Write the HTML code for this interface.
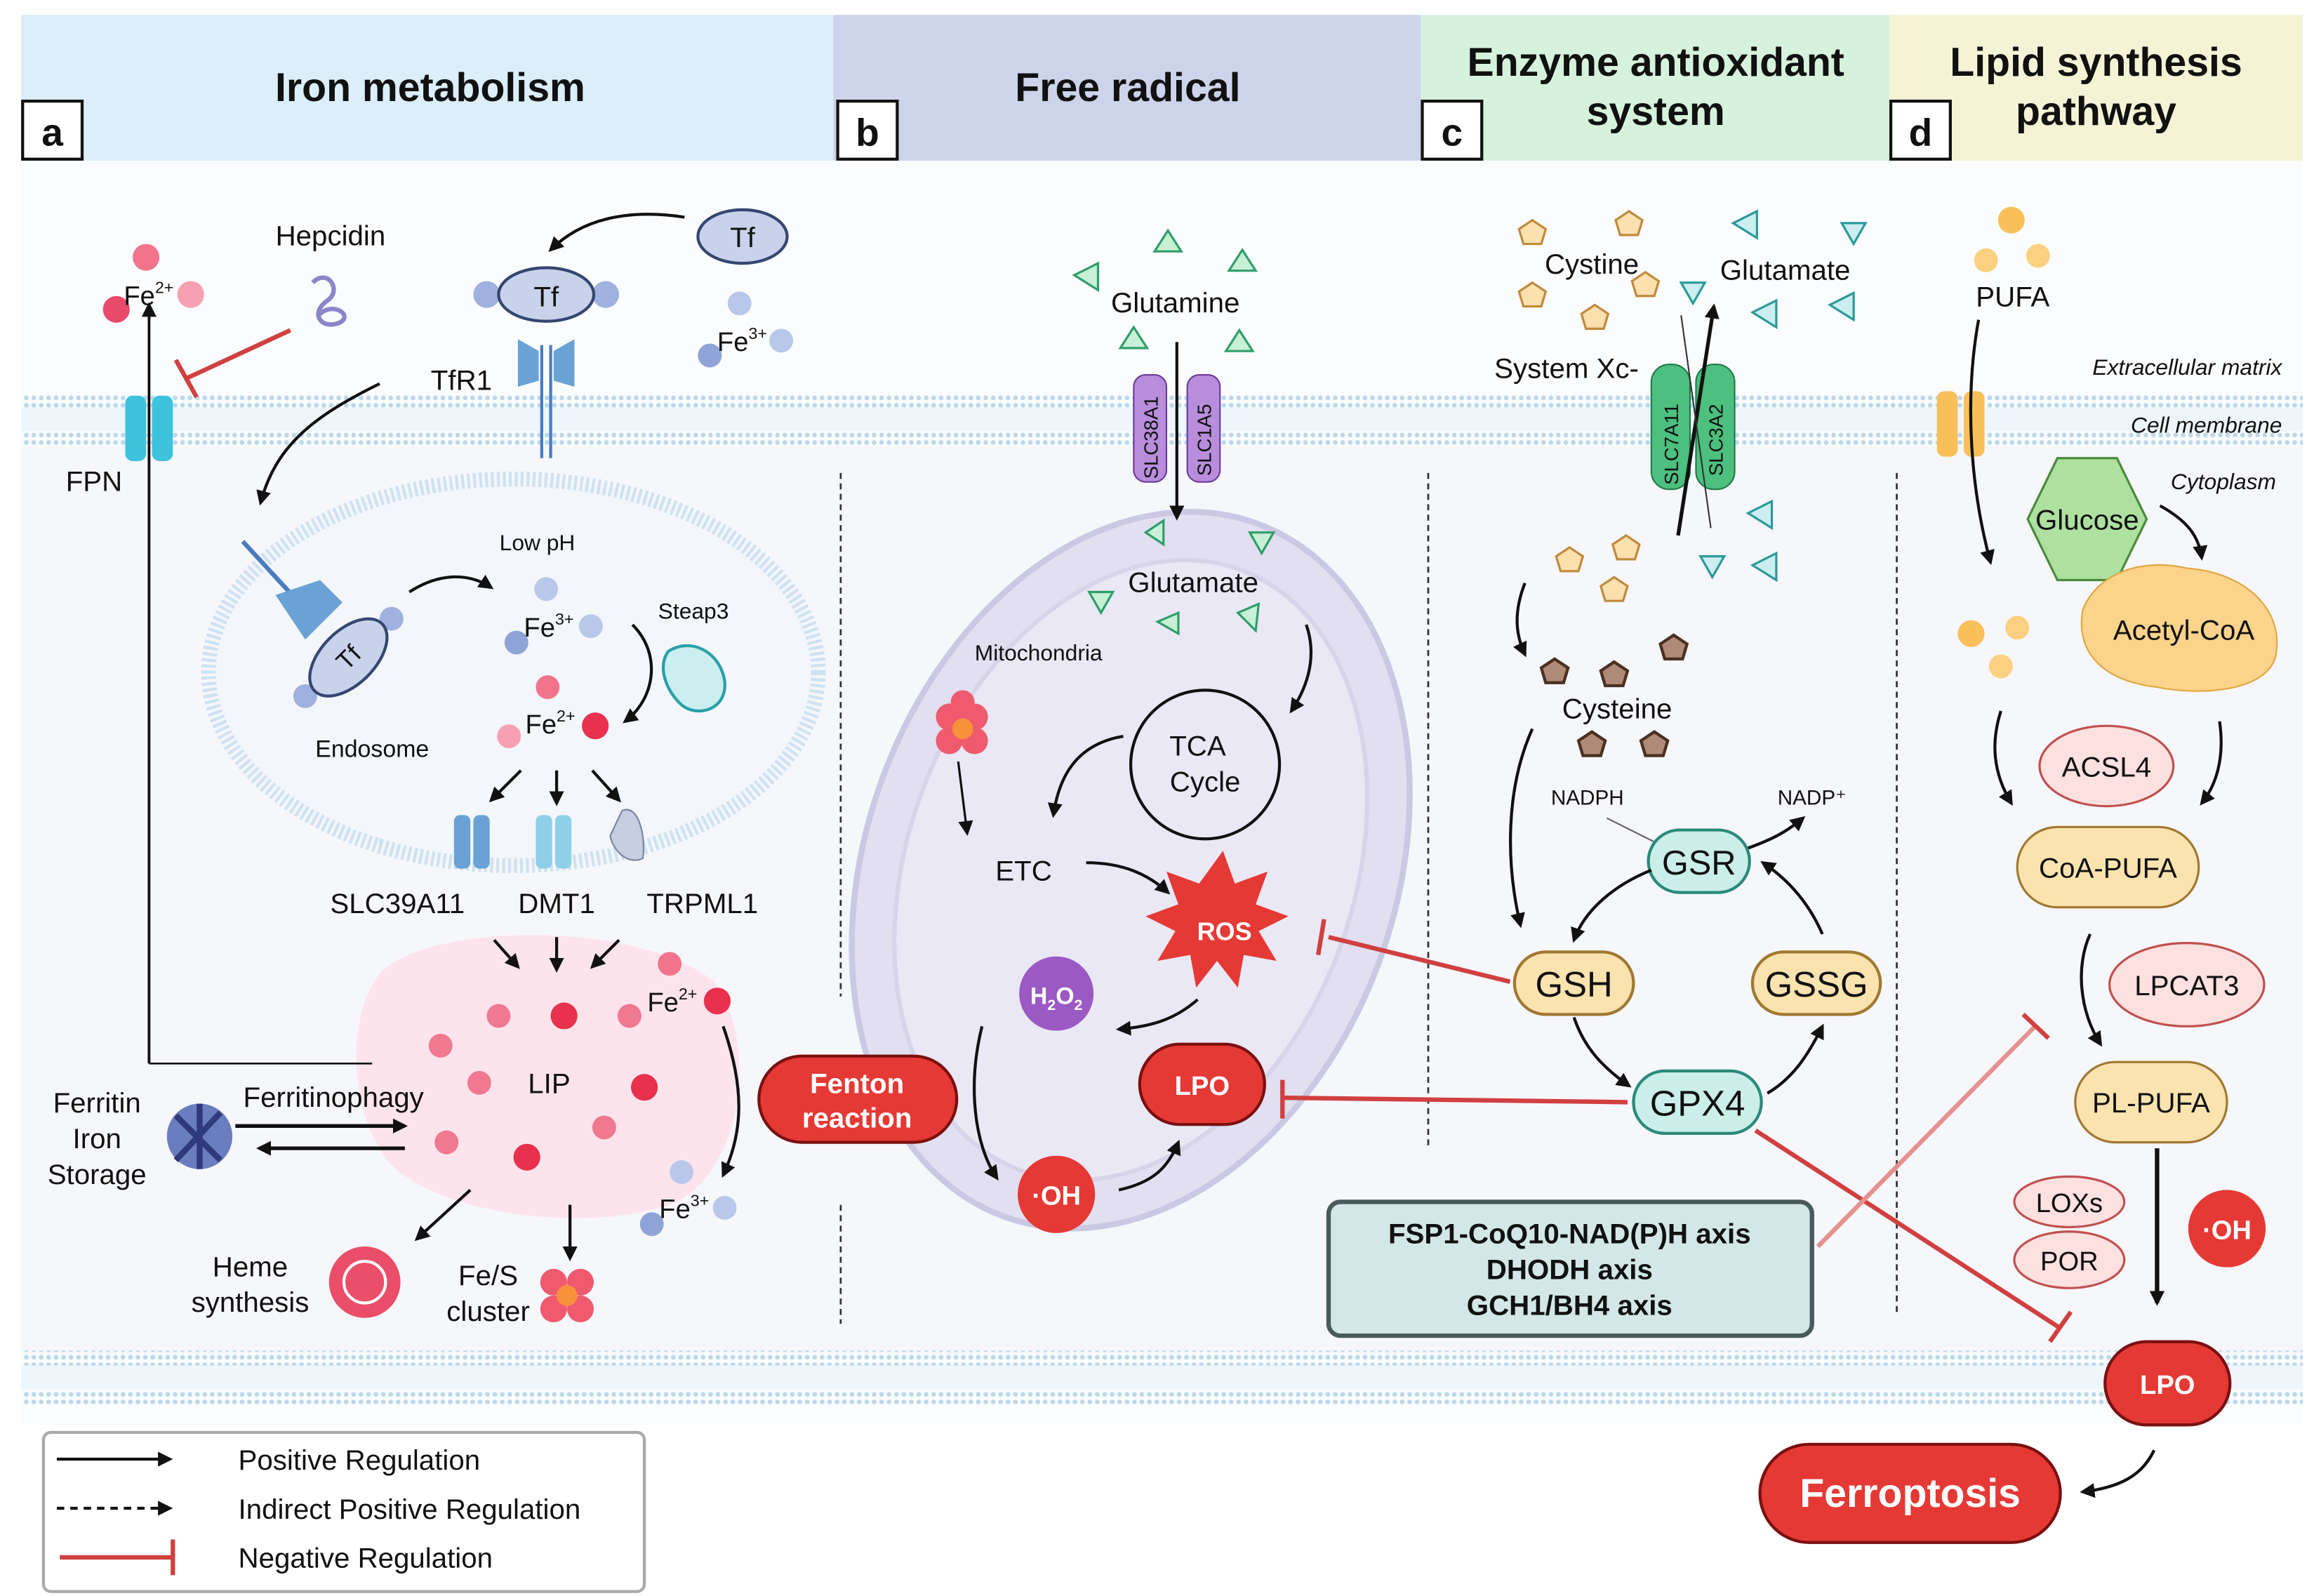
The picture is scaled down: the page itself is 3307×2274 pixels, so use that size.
<!DOCTYPE html>
<html><head><meta charset="utf-8"><style>
html,body{margin:0;padding:0;background:#fff}
svg{display:block}
text{font-family:"Liberation Sans",sans-serif;fill:#111}
.b{font-weight:bold}
</style></head><body>
<svg width="3307" height="2274" viewBox="0 0 1560 1073" xmlns="http://www.w3.org/2000/svg">
<defs>
<marker id="ar" markerWidth="10" markerHeight="10" refX="8" refY="5" orient="auto" markerUnits="userSpaceOnUse"><path d="M0,0 L10,5 L0,10 z" fill="#111"/></marker>
<pattern id="mem" width="5" height="5" patternUnits="userSpaceOnUse"><circle cx="2.5" cy="2.5" r="1.6" fill="#b9d9ee"/></pattern>
</defs>
<rect width="1560" height="1073" fill="#fff"/>
<!-- cell background -->
<rect x="14" y="108" width="1534" height="850" fill="#fbfcfe"/>
<rect x="14" y="300" width="1534" height="610" fill="#f6f7fb"/>
<!-- headers -->
<rect x="14" y="10" width="546" height="98" fill="#dbeefa"/>
<rect x="560" y="10" width="395" height="98" fill="#cdd3ea"/>
<rect x="955" y="10" width="315" height="98" fill="#d6f2dd"/>
<rect x="1270" y="10" width="278" height="98" fill="#f4f3d6"/>
<text x="289" y="68" font-size="27" class="b" text-anchor="middle">Iron metabolism</text>
<text x="758" y="68" font-size="27" class="b" text-anchor="middle">Free radical</text>
<text x="1113" y="51" font-size="27" class="b" text-anchor="middle">Enzyme antioxidant</text>
<text x="1113" y="84" font-size="27" class="b" text-anchor="middle">system</text>
<text x="1409" y="51" font-size="27" class="b" text-anchor="middle">Lipid synthesis</text>
<text x="1409" y="84" font-size="27" class="b" text-anchor="middle">pathway</text>
<g fill="#fff" stroke="#111" stroke-width="2">
<rect x="15" y="68" width="40" height="39"/><rect x="563" y="68" width="40" height="39"/><rect x="956" y="68" width="40" height="39"/><rect x="1271" y="68" width="40" height="39"/></g>
<text x="35" y="98" font-size="26" class="b" text-anchor="middle">a</text>
<text x="583" y="98" font-size="26" class="b" text-anchor="middle">b</text>
<text x="976" y="98" font-size="26" class="b" text-anchor="middle">c</text>
<text x="1291" y="98" font-size="26" class="b" text-anchor="middle">d</text>
<!-- membranes -->
<rect x="14" y="264" width="1534" height="10" fill="url(#mem)"/>
<rect x="14" y="274" width="1534" height="16" fill="#eef5fb"/>
<rect x="14" y="290" width="1534" height="10" fill="url(#mem)"/>
<rect x="14" y="908" width="1534" height="10" fill="url(#mem)"/>
<rect x="14" y="918" width="1534" height="16" fill="#eef5fb"/>
<rect x="14" y="934" width="1534" height="10" fill="url(#mem)"/>
<text x="1534" y="252" font-size="15" font-style="italic" text-anchor="end">Extracellular matrix</text>
<text x="1534" y="291" font-size="15" font-style="italic" text-anchor="end">Cell membrane</text>
<text x="1530" y="329" font-size="15" font-style="italic" text-anchor="end">Cytoplasm</text>
<!-- separators -->
<g stroke="#333" stroke-width="1.3" stroke-dasharray="4,3">
<line x1="565" y1="318" x2="565" y2="670"/><line x1="565" y1="810" x2="565" y2="890"/>
<line x1="960" y1="318" x2="960" y2="770"/><line x1="1275" y1="318" x2="1275" y2="885"/></g>

<!-- ===== a ===== -->
<ellipse cx="345" cy="452" rx="205" ry="130" fill="#f3f6fb" stroke="#cfe2f1" stroke-width="10" stroke-dasharray="2,2"/>
<path d="M260,650 C300,620 430,620 480,660 C510,700 500,790 450,810 C390,830 290,815 260,780 C230,740 235,670 260,650z" fill="#fde4ec"/>
<g fill="#e84a6b"><circle cx="98" cy="173" r="9" fill="#f2748c"/><circle cx="78" cy="208" r="9"/><circle cx="128" cy="198" r="9" fill="#f7a0b1"/></g>
<text x="83" y="205" font-size="18">Fe<tspan font-size="11" dy="-8">2+</tspan></text>
<text x="222" y="165" font-size="19" text-anchor="middle">Hepcidin</text>
<path d="M210,190 c10,-10 20,5 10,12 c-12,8 -5,20 8,15 c10,-5 -5,-15 -14,-5" fill="none" stroke="#8a86c8" stroke-width="3"/>
<line x1="195" y1="222" x2="126" y2="254" stroke="#d04040" stroke-width="3"/>
<line x1="118" y1="242" x2="132" y2="267" stroke="#d04040" stroke-width="3"/>
<rect x="84" y="266" width="14" height="44" rx="5" fill="#3ec3dd"/><rect x="102" y="266" width="14" height="44" rx="5" fill="#3ec3dd"/>
<text x="63" y="330" font-size="19" text-anchor="middle">FPN</text>
<path d="M100,715 L100,205" stroke="#111" stroke-width="1.8" marker-end="url(#ar)"/>
<path d="M100,715 L250,715" stroke="#111" stroke-width="1.2"/>
<ellipse cx="499" cy="159" rx="30" ry="18" fill="#c9d2eb" stroke="#354770" stroke-width="2"/>
<text x="499" y="166" font-size="19" text-anchor="middle">Tf</text>
<path d="M460,146 C420,140 390,148 370,168" fill="none" stroke="#111" stroke-width="2" marker-end="url(#ar)"/>
<circle cx="327" cy="198" r="9" fill="#9fb1de"/><circle cx="407" cy="198" r="9" fill="#9fb1de"/>
<ellipse cx="367" cy="198" rx="32" ry="18" fill="#c9d2eb" stroke="#354770" stroke-width="2"/>
<text x="367" y="206" font-size="19" text-anchor="middle">Tf</text>
<path d="M348,228 l14,8 l0,20 l-14,4z M386,228 l-14,8 l0,20 l14,4z" fill="#6aa2d6"/>
<line x1="364" y1="232" x2="364" y2="308" stroke="#4a7cc0" stroke-width="2"/><line x1="370" y1="232" x2="370" y2="308" stroke="#4a7cc0" stroke-width="2"/>
<circle cx="497" cy="204" r="8" fill="#b9c7ea"/><circle cx="477" cy="239" r="8" fill="#8fa3d7"/><circle cx="525" cy="229" r="8" fill="#b9c7ea"/>
<text x="482" y="236" font-size="18">Fe<tspan font-size="11" dy="-8">3+</tspan></text>
<text x="310" y="262" font-size="19" text-anchor="middle">TfR1</text>
<path d="M255,258 C210,280 185,300 175,338" fill="none" stroke="#111" stroke-width="2" marker-end="url(#ar)"/>
<line x1="163" y1="364" x2="198" y2="402" stroke="#4a7cc0" stroke-width="3"/>
<path d="M185,400 l30,-10 l15,15 l-25,25z" fill="#6aa2d6"/>
<circle cx="205" cy="468" r="8" fill="#9fb1de"/><circle cx="263" cy="416" r="8" fill="#9fb1de"/>
<ellipse cx="234" cy="442" rx="18" ry="32" transform="rotate(45 234 442)" fill="#c9d2eb" stroke="#354770" stroke-width="2"/>
<text x="234" y="448" font-size="17" text-anchor="middle" transform="rotate(-45 234 442)">Tf</text>
<text x="361" y="370" font-size="15" text-anchor="middle">Low pH</text>
<path d="M275,398 C295,385 315,385 330,395" fill="none" stroke="#111" stroke-width="2" marker-end="url(#ar)"/>
<circle cx="367" cy="396" r="8" fill="#b9c7ea"/><circle cx="347" cy="432" r="8" fill="#8fa3d7"/><circle cx="397" cy="421" r="8" fill="#b9c7ea"/>
<text x="352" y="428" font-size="18">Fe<tspan font-size="11" dy="-8">3+</tspan></text>
<text x="466" y="416" font-size="15" text-anchor="middle">Steap3</text>
<path d="M449,438 c15,-10 35,0 38,20 c2,20 -20,25 -30,15 c-10,-10 -15,-25 -8,-35z" fill="#cbeef0" stroke="#2aa0a8" stroke-width="2"/>
<path d="M425,420 C445,440 440,470 420,485" fill="none" stroke="#111" stroke-width="2" marker-end="url(#ar)"/>
<circle cx="368" cy="462" r="8" fill="#f2748c"/><circle cx="342" cy="495" r="8" fill="#f7a0b1"/><circle cx="400" cy="488" r="9" fill="#e8304f"/>
<text x="353" y="493" font-size="18">Fe<tspan font-size="11" dy="-8">2+</tspan></text>
<text x="250" y="509" font-size="16" text-anchor="middle">Endosome</text>
<g stroke="#111" stroke-width="2" marker-end="url(#ar)"><line x1="350" y1="518" x2="330" y2="538"/><line x1="374" y1="518" x2="374" y2="540"/><line x1="398" y1="518" x2="416" y2="538"/></g>
<rect x="305" y="548" width="11" height="36" rx="4" fill="#6aa2d6"/><rect x="318" y="548" width="11" height="36" rx="4" fill="#6aa2d6"/>
<rect x="360" y="548" width="11" height="36" rx="4" fill="#8fd0e8"/><rect x="373" y="548" width="11" height="36" rx="4" fill="#8fd0e8"/>
<path d="M418,545 c12,-5 16,20 14,32 c-10,5 -20,-5 -22,-15z" fill="#c7cee0" stroke="#7a849c"/>
<text x="267" y="614" font-size="19" text-anchor="middle">SLC39A11</text>
<text x="374" y="614" font-size="19" text-anchor="middle">DMT1</text>
<text x="472" y="614" font-size="19" text-anchor="middle">TRPML1</text>
<g stroke="#111" stroke-width="2" marker-end="url(#ar)"><line x1="332" y1="632" x2="348" y2="650"/><line x1="374" y1="630" x2="374" y2="652"/><line x1="416" y1="632" x2="398" y2="650"/></g>
<g fill="#f07890"><circle cx="296" cy="703" r="8"/><circle cx="335" cy="683" r="8"/><circle cx="379" cy="683" r="9" fill="#e8304f"/><circle cx="423" cy="683" r="8"/><circle cx="322" cy="728" r="8"/><circle cx="433" cy="731" r="9" fill="#e8304f"/><circle cx="300" cy="768" r="8"/><circle cx="354" cy="778" r="9" fill="#e8304f"/><circle cx="406" cy="758" r="8"/><circle cx="450" cy="648" r="8" fill="#f2748c"/><circle cx="482" cy="673" r="9" fill="#e8304f"/></g>
<text x="369" y="735" font-size="19" text-anchor="middle">LIP</text>
<text x="435" y="680" font-size="18">Fe<tspan font-size="11" dy="-8">2+</tspan></text>
<path d="M486,690 C500,730 500,760 486,790" fill="none" stroke="#111" stroke-width="2" marker-end="url(#ar)"/>
<circle cx="458" cy="788" r="8" fill="#b9c7ea"/><circle cx="438" cy="823" r="8" fill="#8fa3d7"/><circle cx="487" cy="812" r="8" fill="#b9c7ea"/>
<text x="443" y="819" font-size="18">Fe<tspan font-size="11" dy="-8">3+</tspan></text>
<text x="65" y="748" font-size="19" text-anchor="middle">Ferritin</text>
<text x="65" y="772" font-size="19" text-anchor="middle">Iron</text>
<text x="65" y="796" font-size="19" text-anchor="middle">Storage</text>
<circle cx="134" cy="764" r="22" fill="#6a7dbf"/><path d="M118,750 l30,30 M148,748 l-30,32 M134,742 l0,44" stroke="#2e3a7a" stroke-width="4"/>
<text x="224" y="744" font-size="19" text-anchor="middle">Ferritinophagy</text>
<line x1="158" y1="757" x2="272" y2="757" stroke="#111" stroke-width="2.5" marker-end="url(#ar)"/>
<line x1="272" y1="772" x2="174" y2="772" stroke="#111" stroke-width="2.5" marker-end="url(#ar)"/>
<text x="168" y="858" font-size="19" text-anchor="middle">Heme</text>
<text x="168" y="882" font-size="19" text-anchor="middle">synthesis</text>
<circle cx="245" cy="862" r="24" fill="#e8304f" opacity="0.85"/><circle cx="245" cy="862" r="14" fill="none" stroke="#fff" stroke-width="2"/>
<line x1="316" y1="800" x2="280" y2="833" stroke="#111" stroke-width="2" marker-end="url(#ar)"/>
<line x1="383" y1="810" x2="383" y2="846" stroke="#111" stroke-width="2" marker-end="url(#ar)"/>
<text x="328" y="864" font-size="19" text-anchor="middle">Fe/S</text>
<text x="328" y="888" font-size="19" text-anchor="middle">cluster</text>
<g fill="#ef5a6e"><circle cx="372" cy="862" r="9"/><circle cx="390" cy="862" r="9"/><circle cx="372" cy="880" r="9"/><circle cx="390" cy="880" r="9"/></g><circle cx="381" cy="871" r="7" fill="#f7913a"/>

<!-- ===== b ===== -->
<ellipse cx="760" cy="585" rx="178" ry="248" transform="rotate(20 760 585)" fill="#e1dff0" stroke="#cbc8e4" stroke-width="4"/>
<ellipse cx="760" cy="585" rx="150" ry="215" transform="rotate(20 760 585)" fill="#eae8f5" stroke="#d7d4ea" stroke-width="3"/>
<g fill="#c8f0d6" stroke="#2f9e6a" stroke-width="1.5">
<path d="M785,155 l9,14 l-18,0z"/><path d="M835,168 l9,14 l-18,0z"/><path d="M722,185 l16,-8 l0,18z"/><path d="M762,220 l9,14 l-18,0z"/><path d="M833,222 l9,14 l-18,0z"/>
<path d="M770,358 l12,-8 l0,16z"/><path d="M840,358 l16,0 l-8,14z"/><path d="M732,398 l16,0 l-8,14z"/><path d="M778,418 l14,-6 l0,14z"/><path d="M832,412 l14,-6 l-2,18z"/></g>
<text x="790" y="210" font-size="19" text-anchor="middle">Glutamine</text>
<rect x="762" y="252" width="22" height="72" rx="8" fill="#b88ddb" stroke="#6a3a9a"/><rect x="798" y="252" width="22" height="72" rx="8" fill="#b88ddb" stroke="#6a3a9a"/>
<text font-size="13" transform="translate(778 322) rotate(-90)">SLC38A1</text>
<text font-size="13" transform="translate(814 320) rotate(-90)">SLC1A5</text>
<line x1="791" y1="230" x2="791" y2="348" stroke="#111" stroke-width="2" marker-end="url(#ar)"/>
<text x="802" y="398" font-size="19" text-anchor="middle">Glutamate</text>
<text x="698" y="444" font-size="15" text-anchor="middle">Mitochondria</text>
<g fill="#ef5a6e"><circle cx="638" cy="482" r="9"/><circle cx="655" cy="482" r="9"/><circle cx="638" cy="498" r="9"/><circle cx="655" cy="498" r="9"/><circle cx="647" cy="472" r="8"/></g><circle cx="647" cy="490" r="7" fill="#f7913a"/>
<path d="M878,420 C885,440 880,460 868,478" fill="none" stroke="#111" stroke-width="2" marker-end="url(#ar)"/>
<circle cx="810" cy="514" r="50" fill="none" stroke="#111" stroke-width="2"/>
<text x="805" y="508" font-size="19" text-anchor="middle">TCA</text>
<text x="810" y="532" font-size="19" text-anchor="middle">Cycle</text>
<path d="M755,495 C725,500 712,520 708,548" fill="none" stroke="#111" stroke-width="2" marker-end="url(#ar)"/>
<path d="M644,512 L650,560" stroke="#111" stroke-width="1.5" marker-end="url(#ar)"/>
<text x="688" y="592" font-size="19" text-anchor="middle">ETC</text>
<path d="M730,580 C755,580 772,588 785,600" fill="none" stroke="#111" stroke-width="2" marker-end="url(#ar)"/>
<path d="M822,572 l8,22 l22,-8 l-8,22 l22,8 l-20,10 l12,20 l-22,-4 l-4,22 l-14,-18 l-14,18 l-4,-22 l-22,4 l12,-20 l-20,-10 l22,-8 l-8,-22 l22,8z" fill="#e53935"/>
<text x="823" y="632" font-size="17" class="b" text-anchor="middle" style="fill:#fff">ROS</text>
<circle cx="710" cy="668" r="25" fill="#9b59c4"/>
<text x="710" y="675" font-size="16" class="b" text-anchor="middle" style="fill:#fff">H<tspan font-size="10" dy="4">2</tspan><tspan dy="-4">O</tspan><tspan font-size="10" dy="4">2</tspan></text>
<path d="M805,672 C790,685 775,690 752,692" fill="none" stroke="#111" stroke-width="2" marker-end="url(#ar)"/>
<path d="M660,690 C650,730 655,770 670,792" fill="none" stroke="#111" stroke-width="2" marker-end="url(#ar)"/>
<rect x="510" y="710" width="133" height="58" rx="29" fill="#e53935" stroke="#7a1010" stroke-width="2"/>
<text x="576" y="735" font-size="19" class="b" text-anchor="middle" style="fill:#fff">Fenton</text>
<text x="576" y="758" font-size="19" class="b" text-anchor="middle" style="fill:#fff">reaction</text>
<circle cx="710" cy="803" r="26" fill="#e53935"/>
<text x="710" y="810" font-size="18" class="b" text-anchor="middle" style="fill:#fff">·OH</text>
<path d="M752,800 C775,795 785,785 792,768" fill="none" stroke="#111" stroke-width="2" marker-end="url(#ar)"/>
<rect x="766" y="702" width="84" height="54" rx="27" fill="#e53935" stroke="#7a1010" stroke-width="2"/>
<text x="808" y="736" font-size="18" class="b" text-anchor="middle" style="fill:#fff">LPO</text>

<!-- ===== c ===== -->
<g fill="#fbe0b0" stroke="#c08a3a" stroke-width="1.5">
<path d="M1030,148 l9,6 l-3,10 l-12,0 l-3,-10z"/><path d="M1095,142 l9,6 l-3,10 l-12,0 l-3,-10z"/><path d="M1030,190 l9,6 l-3,10 l-12,0 l-3,-10z"/><path d="M1072,205 l9,6 l-3,10 l-12,0 l-3,-10z"/><path d="M1106,183 l9,6 l-3,10 l-12,0 l-3,-10z"/>
<path d="M1055,368 l9,6 l-3,10 l-12,0 l-3,-10z"/><path d="M1093,360 l9,6 l-3,10 l-12,0 l-3,-10z"/><path d="M1085,388 l9,6 l-3,10 l-12,0 l-3,-10z"/></g>
<g fill="#b08a78" stroke="#4a3020" stroke-width="2">
<path d="M1045,443 l9,6 l-3,10 l-12,0 l-3,-10z"/><path d="M1085,445 l9,6 l-3,10 l-12,0 l-3,-10z"/><path d="M1125,427 l9,6 l-3,10 l-12,0 l-3,-10z"/><path d="M1070,492 l9,6 l-3,10 l-12,0 l-3,-10z"/><path d="M1112,492 l9,6 l-3,10 l-12,0 l-3,-10z"/></g>
<g fill="#cdeef0" stroke="#2a9a9a" stroke-width="1.5">
<path d="M1165,150 l16,-8 l0,18z"/><path d="M1238,150 l16,0 l-8,14z"/><path d="M1130,190 l16,0 l-8,14z"/><path d="M1178,210 l16,-8 l0,18z"/><path d="M1230,205 l16,-8 l0,18z"/>
<path d="M1175,345 l16,-8 l0,18z"/><path d="M1143,374 l16,0 l-8,14z"/><path d="M1178,380 l16,-8 l0,18z"/></g>
<text x="1070" y="184" font-size="19" text-anchor="middle">Cystine</text>
<text x="1200" y="188" font-size="19" text-anchor="middle">Glutamate</text>
<text x="1053" y="254" font-size="19" text-anchor="middle">System Xc-</text>
<rect x="1110" y="245" width="26" height="84" rx="12" fill="#4dbf7e" stroke="#1f7a48"/><rect x="1140" y="245" width="26" height="84" rx="12" fill="#4dbf7e" stroke="#1f7a48"/>
<text font-size="13" transform="translate(1128 326) rotate(-90)">SLC7A11</text>
<text font-size="13" transform="translate(1158 320) rotate(-90)">SLC3A2</text>
<line x1="1128" y1="360" x2="1152" y2="206" stroke="#111" stroke-width="2.5" marker-end="url(#ar)"/>
<line x1="1130" y1="212" x2="1150" y2="355" stroke="#333" stroke-width="1"/>
<path d="M1025,392 C1018,410 1018,425 1025,440" fill="none" stroke="#111" stroke-width="2" marker-end="url(#ar)"/>
<text x="1087" y="483" font-size="19" text-anchor="middle">Cysteine</text>
<path d="M1030,490 C1012,530 1012,580 1022,622" fill="none" stroke="#111" stroke-width="2" marker-end="url(#ar)"/>
<text x="1067" y="541" font-size="14" text-anchor="middle">NADPH</text>
<text x="1218" y="541" font-size="14" text-anchor="middle">NADP⁺</text>
<path d="M1080,550 C1100,560 1110,565 1120,570" fill="none" stroke="#666" stroke-width="1"/>
<path d="M1170,572 C1190,565 1200,560 1212,550" fill="none" stroke="#111" stroke-width="2" marker-end="url(#ar)"/>
<rect x="1108" y="558" width="68" height="42" rx="21" fill="#cbeee8" stroke="#2a8a7a" stroke-width="2"/>
<text x="1142" y="588" font-size="23" text-anchor="middle">GSR</text>
<path d="M1110,585 C1085,595 1065,612 1058,632" fill="none" stroke="#111" stroke-width="2" marker-end="url(#ar)"/>
<path d="M1225,628 C1215,605 1200,590 1185,580" fill="none" stroke="#111" stroke-width="2" marker-end="url(#ar)"/>
<rect x="1018" y="640" width="80" height="42" rx="21" fill="#fbe3b0" stroke="#a07830" stroke-width="2"/>
<text x="1058" y="670" font-size="24" text-anchor="middle">GSH</text>
<rect x="1178" y="640" width="86" height="42" rx="21" fill="#fbe3b0" stroke="#a07830" stroke-width="2"/>
<text x="1221" y="670" font-size="24" text-anchor="middle">GSSG</text>
<path d="M1058,684 C1065,705 1078,718 1095,730" fill="none" stroke="#111" stroke-width="2" marker-end="url(#ar)"/>
<path d="M1188,735 C1205,725 1215,710 1225,690" fill="none" stroke="#111" stroke-width="2" marker-end="url(#ar)"/>
<rect x="1098" y="720" width="86" height="42" rx="21" fill="#cbeee8" stroke="#2a8a7a" stroke-width="2"/>
<text x="1141" y="750" font-size="24" text-anchor="middle">GPX4</text>
<line x1="1015" y1="660" x2="893" y2="630" stroke="#d04040" stroke-width="3"/><line x1="890" y1="618" x2="886" y2="642" stroke="#d04040" stroke-width="3"/>
<line x1="1094" y1="741" x2="862" y2="738" stroke="#d04040" stroke-width="3"/><line x1="862" y1="726" x2="862" y2="752" stroke="#d04040" stroke-width="3"/>
<line x1="1180" y1="760" x2="1385" y2="893" stroke="#d04040" stroke-width="3"/><line x1="1378" y1="902" x2="1392" y2="882" stroke="#d04040" stroke-width="3"/>
<line x1="1222" y1="838" x2="1368" y2="690" stroke="#e69090" stroke-width="3"/><line x1="1360" y1="682" x2="1377" y2="698" stroke="#d04040" stroke-width="3"/>
<rect x="893" y="808" width="325" height="90" rx="8" fill="#d3e8e6" stroke="#4a5a5a" stroke-width="3"/>
<text x="1055" y="836" font-size="19" class="b" text-anchor="middle">FSP1-CoQ10-NAD(P)H axis</text>
<text x="1055" y="860" font-size="19" class="b" text-anchor="middle">DHODH axis</text>
<text x="1055" y="884" font-size="19" class="b" text-anchor="middle">GCH1/BH4 axis</text>

<!-- ===== d ===== -->
<g fill="#f9c05a"><circle cx="1352" cy="148" r="9"/><circle cx="1335" cy="175" r="8" fill="#fbd080"/><circle cx="1370" cy="172" r="8" fill="#fbd080"/>
<circle cx="1325" cy="426" r="9"/><circle cx="1356" cy="422" r="8" fill="#fbd080"/><circle cx="1345" cy="448" r="8" fill="#fbd080"/></g>
<text x="1353" y="206" font-size="19" text-anchor="middle">PUFA</text>
<rect x="1302" y="263" width="14" height="44" rx="5" fill="#f9c05a"/><rect x="1320" y="263" width="14" height="44" rx="5" fill="#f9c05a"/>
<path d="M1330,215 C1320,270 1325,330 1338,378" fill="none" stroke="#111" stroke-width="2" marker-end="url(#ar)"/>
<path d="M1383,308 l40,0 l20,41 l-20,41 l-40,0 l-20,-41z" fill="#aee0a0" stroke="#4a8a3a" stroke-width="1.5"/>
<text x="1403" y="356" font-size="19" text-anchor="middle">Glucose</text>
<path d="M1452,340 C1470,350 1478,360 1480,375" fill="none" stroke="#111" stroke-width="2" marker-end="url(#ar)"/>
<path d="M1400,410 C1410,385 1440,375 1470,382 C1510,385 1535,410 1530,440 C1525,465 1480,468 1450,462 C1415,458 1395,440 1400,410z" fill="#fbd38a" stroke="#e0a640"/>
<text x="1468" y="430" font-size="19" text-anchor="middle">Acetyl-CoA</text>
<path d="M1345,478 C1338,500 1340,520 1352,540" fill="none" stroke="#111" stroke-width="2" marker-end="url(#ar)"/>
<path d="M1492,485 C1495,505 1492,525 1480,540" fill="none" stroke="#111" stroke-width="2" marker-end="url(#ar)"/>
<ellipse cx="1416" cy="515" rx="45" ry="27" fill="#fde0e0" stroke="#c05050" stroke-width="1.5"/>
<text x="1416" y="522" font-size="19" text-anchor="middle">ACSL4</text>
<rect x="1356" y="556" width="122" height="54" rx="27" fill="#fbe3b0" stroke="#a07830" stroke-width="1.5"/>
<text x="1417" y="590" font-size="19" text-anchor="middle">CoA-PUFA</text>
<ellipse cx="1470" cy="662" rx="52" ry="28" fill="#fde0e0" stroke="#c05050" stroke-width="1.5"/>
<text x="1470" y="669" font-size="19" text-anchor="middle">LPCAT3</text>
<path d="M1405,628 C1395,650 1398,680 1412,702" fill="none" stroke="#111" stroke-width="2" marker-end="url(#ar)"/>
<rect x="1395" y="714" width="102" height="54" rx="27" fill="#fbe3b0" stroke="#a07830" stroke-width="1.5"/>
<text x="1446" y="748" font-size="19" text-anchor="middle">PL-PUFA</text>
<ellipse cx="1391" cy="808" rx="37" ry="17" fill="#fde0e0" stroke="#c05050" stroke-width="1.5"/>
<text x="1391" y="815" font-size="18" text-anchor="middle">LOXs</text>
<ellipse cx="1391" cy="847" rx="37" ry="19" fill="#fde0e0" stroke="#c05050" stroke-width="1.5"/>
<text x="1391" y="854" font-size="18" text-anchor="middle">POR</text>
<line x1="1450" y1="772" x2="1450" y2="876" stroke="#111" stroke-width="3" marker-end="url(#ar)"/>
<circle cx="1497" cy="826" r="26" fill="#e53935"/>
<text x="1497" y="833" font-size="18" class="b" text-anchor="middle" style="fill:#fff">·OH</text>
<rect x="1415" y="902" width="84" height="56" rx="28" fill="#e53935" stroke="#7a1010" stroke-width="2"/>
<text x="1457" y="937" font-size="18" class="b" text-anchor="middle" style="fill:#fff">LPO</text>
<path d="M1448,975 C1440,992 1425,1000 1400,1003" fill="none" stroke="#111" stroke-width="2" marker-end="url(#ar)"/>
<rect x="1183" y="971" width="202" height="66" rx="33" fill="#e53935" stroke="#7a1010" stroke-width="2"/>
<text x="1284" y="1013" font-size="27" class="b" text-anchor="middle" style="fill:#fff">Ferroptosis</text>

<!-- legend -->
<rect x="29" y="963" width="404" height="107" rx="5" fill="#fff" stroke="#aaa" stroke-width="2"/>
<line x1="38" y1="981" x2="114" y2="981" stroke="#111" stroke-width="2" marker-end="url(#ar)"/>
<line x1="38" y1="1014" x2="114" y2="1014" stroke="#111" stroke-width="2" stroke-dasharray="5,4" marker-end="url(#ar)"/>
<line x1="40" y1="1047" x2="116" y2="1047" stroke="#d04040" stroke-width="3"/><line x1="116" y1="1035" x2="116" y2="1059" stroke="#d04040" stroke-width="3"/>
<text x="160" y="988" font-size="19">Positive Regulation</text>
<text x="160" y="1021" font-size="19">Indirect Positive Regulation</text>
<text x="160" y="1054" font-size="19">Negative Regulation</text>
</svg>
</body></html>
